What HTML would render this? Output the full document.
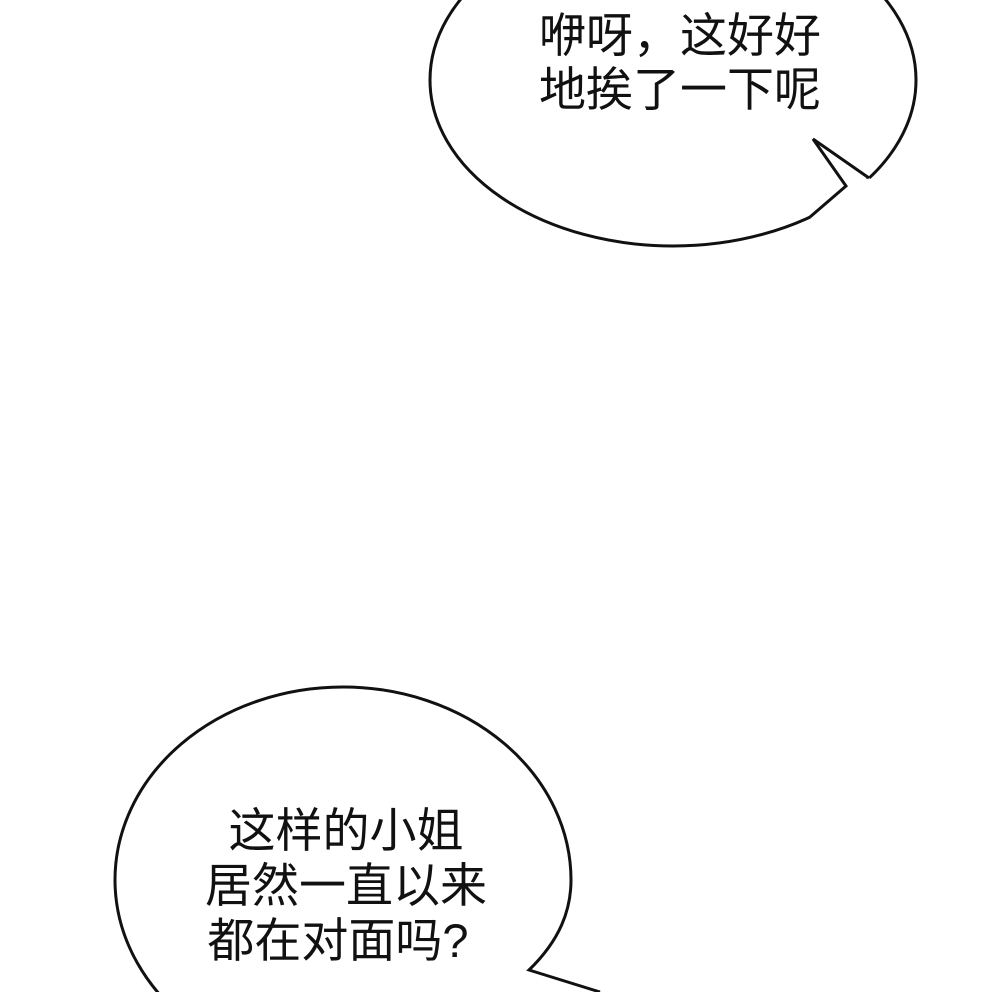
<!DOCTYPE html>
<html><head><meta charset="utf-8"><style>
html,body{margin:0;padding:0;background:#fff;overflow:hidden;width:1000px;height:992px;}
svg{display:block;}
text{font-family:"Liberation Sans","Noto Sans CJK SC",sans-serif;font-size:47px;fill:#111;}
</style></head><body>
<svg width="1000" height="992" viewBox="0 0 1000 992" xmlns="http://www.w3.org/2000/svg">
<ellipse cx="673" cy="80" rx="243" ry="166" fill="#fff" stroke="#111" stroke-width="3"/>
<polygon points="869,178 905,200 850,255 810,217 846,186" fill="#fff"/>
<polyline points="869,178 813,139 846,186 810,217" fill="none" stroke="#111" stroke-width="3" stroke-linejoin="miter"/>
<text x="680" y="52" text-anchor="middle">咿呀，这好好</text>
<text x="680" y="106" text-anchor="middle">地挨了一下呢</text>
<path d="M600,992 L529,970 C560,940 571,910 571,880 A228,193 0 0 0 115,880 A228,193 0 0 0 200,1030" fill="#fff" stroke="#111" stroke-width="3"/>
<text x="346" y="847" text-anchor="middle">这样的小姐</text>
<text x="346" y="902" text-anchor="middle">居然一直以来</text>
<text x="338" y="957" text-anchor="middle">都在对面吗?</text>
</svg>
</body></html>
